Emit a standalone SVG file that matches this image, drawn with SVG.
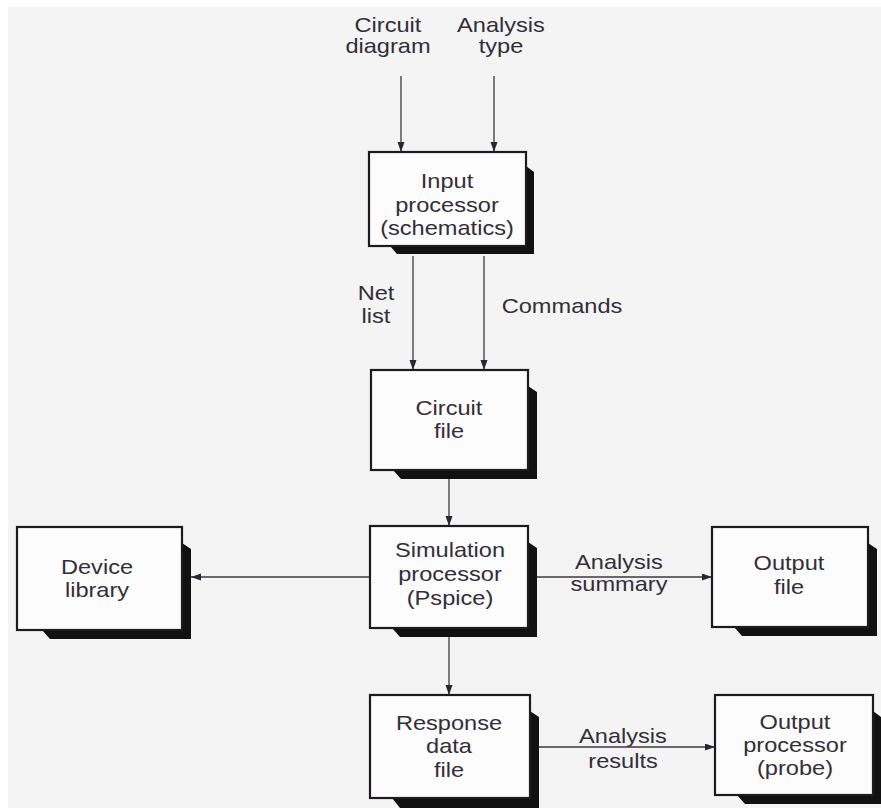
<svg xmlns="http://www.w3.org/2000/svg" width="881" height="808" viewBox="0 0 881 808">
  <style>
    .page { fill: #f4f4f4; }
    .box { fill: #fcfcfc; stroke: #1e1a20; stroke-width: 2.2; }
    .shadow { fill: #111; }
    .wire { fill: none; stroke: #3c3a40; stroke-width: 1.3; }
    text { font-family: "Liberation Sans", Arial, sans-serif; font-size: 20px; fill: #332e38; text-anchor: middle; }
  </style>
  <defs>
    <marker id="head" markerUnits="userSpaceOnUse" markerWidth="11" markerHeight="8" refX="10" refY="3.5" orient="auto">
      <path d="M0,0 L10,3.5 L0,7 z" fill="#2a272e"/>
    </marker>
  </defs>

  <!-- paper -->
  <rect x="0" y="0" width="881" height="808" fill="#ffffff"/>
  <rect class="page" x="8" y="7" width="873" height="801"/>

  <!-- free-standing labels -->
  <g id="labels">
    <g transform="translate(388 0) scale(1.18 1)">
      <text x="0" y="32">Circuit</text>
      <text x="0" y="53">diagram</text>
    </g>
    <g transform="translate(501 0) scale(1.18 1)">
      <text x="0" y="32">Analysis</text>
      <text x="0" y="53">type</text>
    </g>
    <g transform="translate(376 0) scale(1.18 1)">
      <text x="0" y="300">Net</text>
      <text x="0" y="323">list</text>
    </g>
    <g transform="translate(562 0) scale(1.18 1)">
      <text x="0" y="313">Commands</text>
    </g>
    <g transform="translate(619 0) scale(1.18 1)">
      <text x="0" y="569">Analysis</text>
      <text x="0" y="591">summary</text>
    </g>
    <g transform="translate(623 0) scale(1.18 1)">
      <text x="0" y="743">Analysis</text>
      <text x="0" y="768">results</text>
    </g>
  </g>

  <!-- connectors -->
  <g id="connectors">
    <line class="wire" x1="401" y1="76" x2="401" y2="152" marker-end="url(#head)"/>
    <line class="wire" x1="494" y1="76" x2="494" y2="152" marker-end="url(#head)"/>
    <line class="wire" x1="413" y1="256" x2="413" y2="370" marker-end="url(#head)"/>
    <line class="wire" x1="484" y1="256" x2="484" y2="370" marker-end="url(#head)"/>
    <line class="wire" x1="449" y1="478" x2="449" y2="526" marker-end="url(#head)"/>
    <line class="wire" x1="370" y1="577" x2="191" y2="577" marker-end="url(#head)"/>
    <line class="wire" x1="537" y1="577" x2="712" y2="577" marker-end="url(#head)"/>
    <line class="wire" x1="449" y1="637" x2="449" y2="695" marker-end="url(#head)"/>
    <line class="wire" x1="538" y1="747" x2="715" y2="747" marker-end="url(#head)"/>
  </g>

  <!-- Input processor -->
  <g id="input-processor">
    <polygon class="shadow" points="526,166 534,172 534,254 397,254 390,246 526,246"/>
    <rect class="box" x="369" y="152" width="157" height="94"/>
    <g transform="translate(447 0) scale(1.18 1)">
      <text x="0" y="188">Input</text>
      <text x="0" y="212">processor</text>
      <text x="0" y="235">(schematics)</text>
    </g>
  </g>

  <!-- Circuit file -->
  <g id="circuit-file">
    <polygon class="shadow" points="528,386 537,392 537,479 401,479 393,470 528,470"/>
    <rect class="box" x="371" y="370" width="157" height="100"/>
    <g transform="translate(449 0) scale(1.18 1)">
      <text x="0" y="415">Circuit</text>
      <text x="0" y="438">file</text>
    </g>
  </g>

  <!-- Device library -->
  <g id="device-library">
    <polygon class="shadow" points="182,543 191,549 191,639 50,639 42,630 182,630"/>
    <rect class="box" x="17" y="527" width="165" height="103"/>
    <g transform="translate(97 0) scale(1.18 1)">
      <text x="0" y="574">Device</text>
      <text x="0" y="597">library</text>
    </g>
  </g>

  <!-- Simulation processor -->
  <g id="simulation-processor">
    <polygon class="shadow" points="528,542 537,548 537,637 400,637 392,628 528,628"/>
    <rect class="box" x="370" y="526" width="158" height="102"/>
    <g transform="translate(450 0) scale(1.18 1)">
      <text x="0" y="557">Simulation</text>
      <text x="0" y="581">processor</text>
      <text x="0" y="605">(Pspice)</text>
    </g>
  </g>

  <!-- Output file -->
  <g id="output-file">
    <polygon class="shadow" points="868,543 877,549 877,636 742,636 734,627 868,627"/>
    <rect class="box" x="712" y="527" width="156" height="100"/>
    <g transform="translate(789 0) scale(1.18 1)">
      <text x="0" y="570">Output</text>
      <text x="0" y="594">file</text>
    </g>
  </g>

  <!-- Response data file -->
  <g id="response-data-file">
    <polygon class="shadow" points="530,711 539,717 539,808 400,808 392,798 530,798"/>
    <rect class="box" x="370" y="695" width="160" height="103"/>
    <g transform="translate(449 0) scale(1.18 1)">
      <text x="0" y="730">Response</text>
      <text x="0" y="753">data</text>
      <text x="0" y="777">file</text>
    </g>
  </g>

  <!-- Output processor -->
  <g id="output-processor">
    <polygon class="shadow" points="873,711 881,717 881,804 745,804 737,795 873,795"/>
    <rect class="box" x="715" y="695" width="158" height="100"/>
    <g transform="translate(795 0) scale(1.18 1)">
      <text x="0" y="729">Output</text>
      <text x="0" y="752">processor</text>
      <text x="0" y="775">(probe)</text>
    </g>
  </g>
</svg>
